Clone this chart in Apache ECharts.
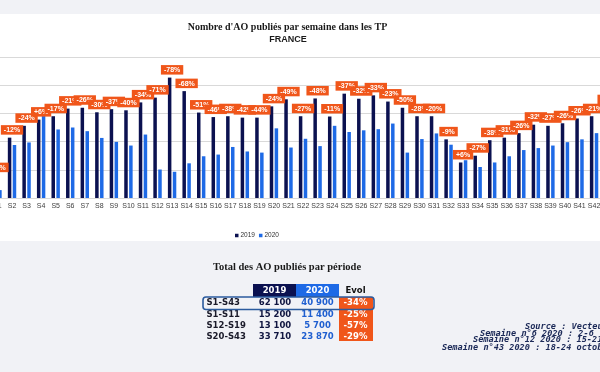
<!DOCTYPE html>
<html>
<head>
<meta charset="utf-8">
<script src="https://cdn.jsdelivr.net/npm/echarts@6/dist/echarts.min.js"></script>
<style>html,body{margin:0;padding:0;background:#fff;overflow:hidden;width:600px;height:372px}#c{position:absolute;left:-20px;top:0;width:640px;height:372px}</style>
</head>
<body>
<div id="c"></div>
<script>
const categories = ['S1','S2','S3','S4','S5','S6','S7','S8','S9','S10','S11','S12','S13','S14','S15','S16','S17','S18','S19','S20','S21','S22','S23','S24','S25','S26','S27','S28','S29','S30','S31','S32','S33','S34','S35','S36','S37','S38','S39','S40','S41','S42','S43'];
const values2019 = [405,1070,1280,1390,1450,1585,1600,1520,1575,1555,1695,1780,2135,1895,1515,1435,1450,1425,1425,1625,1750,1450,1765,1445,1850,1760,1820,1710,1600,1450,1450,1040,630,750,1025,1070,1150,1300,1280,1325,1410,1450,1610];
const values2020 = [140,940,985,1465,1215,1250,1185,1065,995,930,1125,505,465,615,740,770,905,825,805,1235,895,1050,920,1280,1170,1200,1220,1320,805,1045,1145,945,670,550,630,740,850,885,930,990,1040,1150,1220];
const evolLabels = ['-65%','-12%','-24%','+6%','-17%','-21%','-26%','-30%','-37%','-40%','-34%','-71%','-78%','-68%','-51%','-46%','-38%','-42%','-44%','-24%','-49%','-27%','-48%','-11%','-37%','-32%','-33%','-23%','-50%','-28%','-20%','-9%','+6%','-27%','-38%','-31%','-26%','-32%','-27%','-26%','-26%','-21%','-24%'];
const seriesNames = ['2019','2020'];
const yTicks = [0,500,1000,1500,2000,2500];

const chartTitle = "Nombre d'AO publiés par semaine dans les TP";
const chartSubtitle = 'FRANCE';
const tableTitle = 'Total des AO publiés par période';
const tableHeader = ['2019','2020','Evol'];
const periods = ['S1-S43','S1-S11','S12-S19','S20-S43'];
const totals2019 = ['62 100','15 200','13 100','33 710'];
const totals2020 = ['40 900','11 400','5 700','23 870'];
const totalsEvol = ['-34%','-25%','-57%','-29%'];
const sourceLines = ['Source : Vecteur Plus','Semaine n°6 2020 : 2-6 février','Semaine n°12 2020 : 15-21 mars','Semaine n°43 2020 : 18-24 octobre'];

const NAVY = '#0b1150', BLUE = '#1e6ae6', ORANGE = '#f0561a';
const SX = 20; // container is shifted 20px to the left

const graphic = [];
graphic.push({type:'rect', silent:true, z:-5, shape:{x:0,y:0,width:640,height:14}, style:{fill:'#f1f2f6'}});
graphic.push({type:'rect', silent:true, z:-5, shape:{x:0,y:241,width:640,height:131}, style:{fill:'#f1f2f6'}});
graphic.push({type:'text', z:10, x:SX+287.5, y:27, style:{text:chartTitle, fill:'#1a1a1a', font:'bold 10px "Liberation Serif", serif', textAlign:'center', textVerticalAlign:'middle'}});
graphic.push({type:'text', z:10, x:SX+288, y:39.5, style:{text:chartSubtitle, fill:'#1a1a1a', font:'bold 9px "Liberation Sans", Arial, sans-serif', textAlign:'center', textVerticalAlign:'middle'}});
graphic.push({type:'text', z:10, x:SX+287, y:267.5, style:{text:tableTitle, fill:'#1a1a1a', font:'bold 10.5px "Liberation Serif", serif', textAlign:'center', textVerticalAlign:'middle'}});
graphic.push({type:'rect', z:10, shape:{x:SX+253,y:284,width:43,height:13}, style:{fill:NAVY}});
graphic.push({type:'rect', z:10, shape:{x:SX+296,y:284,width:43,height:13}, style:{fill:BLUE}});
graphic.push({type:'rect', z:10, shape:{x:SX+339,y:297,width:34,height:44}, style:{fill:ORANGE}});
const hdrFont = 'bold 8.5px "DejaVu Sans", sans-serif';
graphic.push({type:'text', z:11, x:SX+274.5, y:291, style:{text:tableHeader[0], fill:'#fff', font:hdrFont, textAlign:'center', textVerticalAlign:'middle'}});
graphic.push({type:'text', z:11, x:SX+317.5, y:291, style:{text:tableHeader[1], fill:'#fff', font:hdrFont, textAlign:'center', textVerticalAlign:'middle'}});
graphic.push({type:'text', z:11, x:SX+355.5, y:291, style:{text:tableHeader[2], fill:'#111', font:hdrFont, textAlign:'center', textVerticalAlign:'middle'}});
const rowY = [303, 314.3, 325.7, 337];
const rowFont = 'bold 8.5px "DejaVu Sans", sans-serif';
periods.forEach((p, i) => {
  graphic.push({type:'text', z:11, x:SX+206.5, y:rowY[i], style:{text:p, fill:'#1b1b2a', font:rowFont, textAlign:'left', textVerticalAlign:'middle'}});
  graphic.push({type:'text', z:11, x:SX+275, y:rowY[i], style:{text:totals2019[i], fill:'#101540', font:rowFont, textAlign:'center', textVerticalAlign:'middle'}});
  graphic.push({type:'text', z:11, x:SX+317.5, y:rowY[i], style:{text:totals2020[i], fill:'#1f5fd0', font:rowFont, textAlign:'center', textVerticalAlign:'middle'}});
  graphic.push({type:'text', z:11, x:SX+355.5, y:rowY[i], style:{text:totalsEvol[i], fill:'#fff', font:rowFont, textAlign:'center', textVerticalAlign:'middle'}});
});
graphic.push({type:'rect', z:12, shape:{x:SX+203,y:297,width:171,height:12.5,r:3}, style:{fill:'none', stroke:'#2b5b9e', lineWidth:1.6}});
const srcX = [525, 480, 473, 442];
const srcY = [326.7, 333.5, 340.2, 347.3];
sourceLines.forEach((t, i) => {
  graphic.push({type:'text', z:11, x:SX+srcX[i], y:srcY[i], style:{text:t, fill:'#1c2a58', font:'italic bold 8.6px "DejaVu Sans Mono", monospace', textAlign:'left', textVerticalAlign:'middle'}});
});

const chart = echarts.init(document.getElementById('c'), null, {renderer:'canvas'});
chart.setOption({
  animation:false,
  backgroundColor:'#ffffff',
  grid:{left:10.2, right:4.1, top:57, bottom:174, containLabel:false, outerBoundsMode:'none'},
  legend:{
    data:seriesNames, left:SX+230, top:227, icon:'rect', itemWidth:3.5, itemHeight:3.5, itemGap:4,
    textStyle:{fontSize:6.5, color:'#333', fontFamily:'"Liberation Sans", Arial, sans-serif', padding:[0,0,0,-3]}
  },
  xAxis:{
    type:'category', data:categories,
    axisLine:{show:true, lineStyle:{color:'#d9d9d9'}},
    axisTick:{show:false},
    axisLabel:{interval:0, fontSize:7, color:'#404040', margin:5, fontFamily:'"Liberation Sans", Arial, sans-serif'}
  },
  yAxis:{
    type:'value', min:yTicks[0], max:yTicks[yTicks.length-1], interval:yTicks[1]-yTicks[0],
    axisLabel:{show:false}, axisLine:{show:false}, axisTick:{show:false},
    splitLine:{lineStyle:{color:'#d9d9d9', width:1}}
  },
  series:[
    {
      name:seriesNames[0], type:'bar', data:values2019, barWidth:3.5, barGap:'40%',
      itemStyle:{color:NAVY},
      label:{
        show:true, position:'top', distance:3, offset:[2.45,0],
        formatter:(p)=>evolLabels[p.dataIndex],
        fontSize:7, lineHeight:7, fontWeight:'bold', color:'#fff',
        fontFamily:'"Liberation Sans Narrow", "Liberation Sans", Arial, sans-serif',
        backgroundColor:ORANGE, padding:[1.5,3,1,3]
      }
    },
    {
      name:seriesNames[1], type:'bar', data:values2020, barWidth:3.5, barGap:'40%',
      itemStyle:{color:BLUE}
    }
  ],
  graphic:graphic
});
</script>
</body>
</html>
